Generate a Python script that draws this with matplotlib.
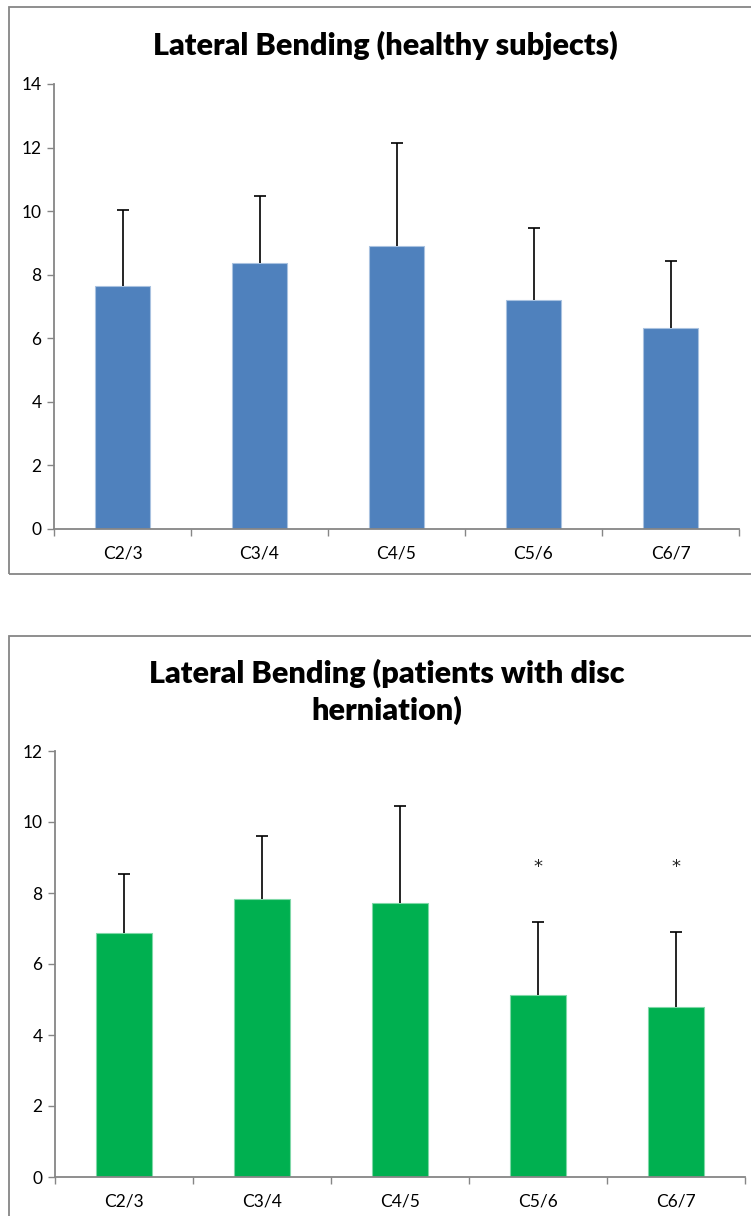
import matplotlib
matplotlib.use("Agg")
import matplotlib.pyplot as plt
from matplotlib.patches import Rectangle
import numpy as np

categories = ["C2/3", "C3/4", "C4/5", "C5/6", "C6/7"]
healthy_mean = [7.66, 8.37, 8.91, 7.19, 6.31]
healthy_sd = [2.37, 2.12, 3.22, 2.29, 2.11]
patient_mean = [6.87, 7.82, 7.72, 5.12, 4.80]
patient_sd = [1.67, 1.79, 2.72, 2.06, 2.11]
patient_sig = ["", "", "", "*", "*"]
sig_y = 8.74

title_top = "Lateral Bending (healthy subjects)"
title_bottom = "Lateral Bending (patients with disc\nherniation)"

plt.rcParams['font.family'] = ['Lato', 'DejaVu Sans']
axis_grey = "#868686"

fig = plt.figure(figsize=(7.51, 12.16), dpi=100)
W, H = 751, 1216

def fx(x): return x / W
def fy(y): return 1 - y / H

# outer frames
fig.patches.append(Rectangle((fx(9), fy(574)), fx(760) - fx(9), fy(7) - fy(574),
                             transform=fig.transFigure, fill=False,
                             edgecolor=axis_grey, lw=1.3))
fig.patches.append(Rectangle((fx(9), fy(1230)), fx(760) - fx(9), fy(636) - fy(1230),
                             transform=fig.transFigure, fill=False,
                             edgecolor=axis_grey, lw=1.3))

def make(ax, means, sds, color, edge, ymax, sig=None):
    x = np.arange(len(categories))
    ax.bar(x, means, width=0.40, color=color, edgecolor=edge, linewidth=0.8, zorder=2)
    eb = ax.errorbar(x, means, yerr=[np.zeros(len(sds)), sds], fmt='none',
                     ecolor='black', elinewidth=1.2, capsize=4.5, capthick=1.2, zorder=3)
    caps = eb[1]
    if len(caps) == 2:
        caps[0].set_visible(False)
    ax.set_xlim(-0.5, len(categories) - 0.5)
    ax.set_ylim(0, ymax)
    ax.set_yticks(np.arange(0, ymax + 1, 2))
    ax.set_xticks(x)
    ax.set_xticklabels(categories)
    ax.set_xticks(np.arange(-0.5, len(categories)), minor=True)
    ax.tick_params(axis='x', which='major', length=0, pad=12, labelsize=12.5)
    ax.tick_params(axis='x', which='minor', length=5, color=axis_grey, width=1)
    ax.tick_params(axis='y', length=5, color=axis_grey, width=1, labelsize=12.5, pad=4)
    for s in ['top', 'right']:
        ax.spines[s].set_visible(False)
    for s in ['left', 'bottom']:
        ax.spines[s].set_color(axis_grey)
        ax.spines[s].set_linewidth(1.3)
    if sig:
        for xi, s in zip(x, sig):
            if s:
                ax.text(xi, sig_y, s, ha='center', va='center', fontsize=13,
                        family='DejaVu Sans', color='#222222')

ax1 = fig.add_axes([fx(54), fy(529), fx(739) - fx(54), fy(84) - fy(529)])
make(ax1, healthy_mean, healthy_sd, "#4F81BD", "#A9C2E0", 14)
fig.text(fx(385), fy(45), title_top, ha='center', va='center',
         fontsize=22, fontweight='heavy')

ax2 = fig.add_axes([fx(55), fy(1177), fx(745) - fx(55), fy(751) - fy(1177)])
make(ax2, patient_mean, patient_sd, "#00B050", "#7FD8A7", 12, patient_sig)
fig.text(fx(387), fy(692), title_bottom, ha='center', va='center',
         fontsize=22, fontweight='heavy', linespacing=1.3)

fig.savefig("out.png", dpi=100)
